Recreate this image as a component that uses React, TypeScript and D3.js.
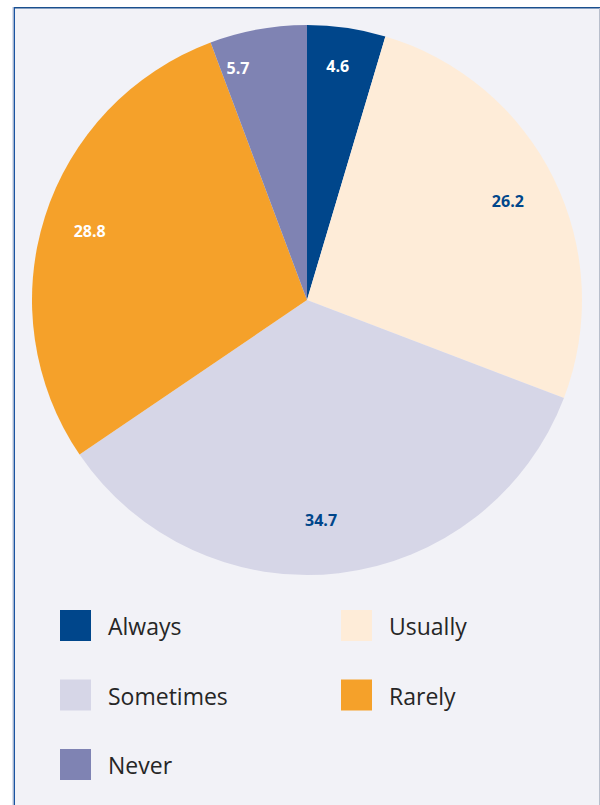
import React from "react";
import * as d3 from "d3";

const categories = ["Always", "Usually", "Sometimes", "Rarely", "Never"];
const values = [4.6, 26.2, 34.7, 28.8, 5.7];
const colors = ["#00468b", "#feecd8", "#d6d6e7", "#f5a12a", "#7f83b3"];
const labelColors = ["#ffffff", "#00468b", "#00468b", "#ffffff", "#ffffff"];
// small per-slice label nudges (degrees, radial px)
const labelAngleNudge = [-0.8, 0, 3, 0, -6.3];
const labelRadiusNudge = [8, -4, -8, 0, 14];
// legend layout: column and row for each category
const legendCol = [0, 1, 0, 1, 0];
const legendRow = [0, 0, 1, 1, 2];

export default function App() {
  const W = 600;
  const H = 805;
  const cx = 307;
  const cy = 300;
  const R = 275;
  const labelR = 228;

  const pie = d3
    .pie<number>()
    .sort(null)
    .value((d) => d);
  const arcs = pie(values);
  const arcGen = d3.arc<d3.PieArcDatum<number>>().innerRadius(0).outerRadius(R);

  const legendX = d3.scaleOrdinal<number, number>().domain([0, 1]).range([60, 341]);
  const legendY = d3.scaleLinear().domain([0, 2]).range([610, 749]);

  return (
    <svg
      width={W}
      height={H}
      style={{ position: "absolute", left: 0, top: 0, display: "block" }}
    >
      <rect x={0} y={0} width={W} height={H} fill="#ffffff" />
      <rect x={14} y={7} width={W - 14} height={H - 7} fill="#f2f2f7" />
      <line x1={14} y1={7.75} x2={W} y2={7.75} stroke="#1a4f8e" strokeWidth={1.5} />
      <line x1={14.25} y1={7} x2={14.25} y2={H} stroke="#1a54a0" strokeWidth={1.5} />
      <line x1={13} y1={7} x2={13} y2={H} stroke="#b4bfd6" strokeWidth={1} />
      <line x1={599.5} y1={8} x2={599.5} y2={H} stroke="#b9bfcc" strokeWidth={1} />

      <g transform={`translate(${cx},${cy})`}>
        {arcs.map((a, i) => (
          <path key={categories[i]} d={arcGen(a) || ""} fill={colors[i]} />
        ))}
        {arcs.map((a, i) => {
          const mid = (a.startAngle + a.endAngle) / 2 + (labelAngleNudge[i] * Math.PI) / 180;
          const r = labelR + labelRadiusNudge[i];
          const x = r * Math.sin(mid);
          const y = -r * Math.cos(mid);
          return (
            <text
              key={"l" + i}
              x={x}
              y={y}
              textAnchor="middle"
              dominantBaseline="central"
              fill={labelColors[i]}
              fontFamily="'Open Sans', sans-serif"
              fontWeight={700}
              fontSize={16}
            >
              {values[i].toFixed(1)}
            </text>
          );
        })}
      </g>

      {categories.map((c, i) => {
        const x = legendX(legendCol[i]);
        const y = legendY(legendRow[i]);
        return (
          <g key={"lg" + c}>
            <rect x={x} y={y} width={31} height={31} fill={colors[i]} />
            <text
              x={x + 48}
              y={y + 25}
              fill="#262626"
              fontFamily="'Open Sans', sans-serif"
              fontSize={23}
            >
              {c}
            </text>
          </g>
        );
      })}
    </svg>
  );
}
